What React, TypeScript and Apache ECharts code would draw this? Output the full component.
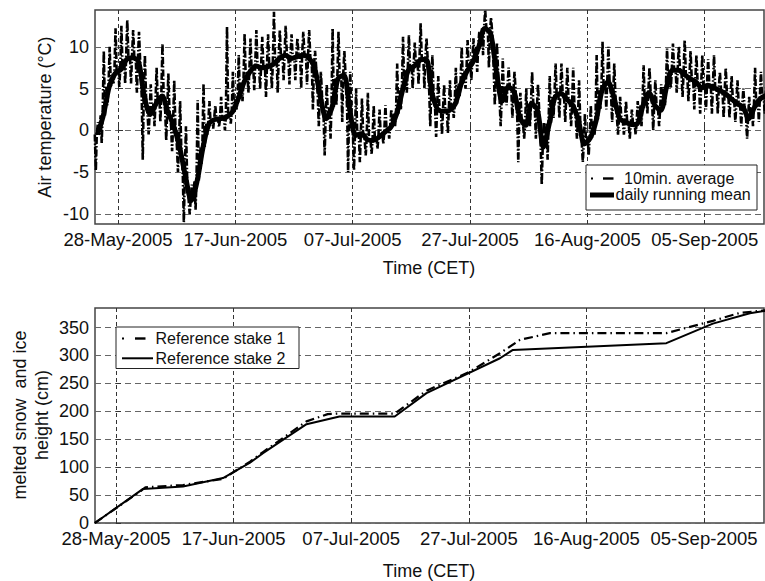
import React, { useEffect, useRef } from "react";
import * as echarts from "echarts";

// x values are days relative to 28-May-2005
const tickDays = [0, 20, 40, 60, 80, 100];
const tickLabels = ["28-May-2005", "17-Jun-2005", "07-Jul-2005", "27-Jul-2005", "16-Aug-2005", "05-Sep-2005"];
const tempTicks = [-10, -5, 0, 5, 10];
const meltTicks = [0, 50, 100, 150, 200, 250, 300, 350];

const firstDay = -4; // first entry of daily arrays

const dailyMeanTemp = [
  -0.5, 1.8, 5.2, 6.8, 7.3, 8.5, 8.7, 8.2, 4.0, 1.9,
  3.2, 4.1, 2.2, 0.5, -2.0, -5.5, -8.4, -6.0, -2.0, 0.8,
  1.3, 1.4, 1.6, 2.2, 3.8, 5.8, 7.0, 7.7, 7.5, 7.6,
  7.9, 8.6, 9.0, 8.6, 8.8, 9.0, 8.7, 7.5, 4.0, 1.4,
  2.8, 6.2, 6.6, 2.5, -0.6, -0.4, -1.1, -1.2, -0.8, -0.2,
  0.4, 2.0, 4.8, 7.2, 7.7, 8.4, 8.5, 4.5, 2.5, 2.3,
  2.4, 3.2, 5.6, 7.1, 8.2, 10.0, 12.2, 11.6, 7.0, 3.5,
  5.2, 4.6, 1.5, 0.6, 3.2, 2.4, -2.0, 0.8, 4.0, 4.4,
  3.7, 3.0, 1.1, -1.6, -0.9, 1.2, 4.8, 5.8, 4.0, 1.4,
  1.0, 0.7, 0.8, 3.0, 4.5, 3.0, 2.4, 5.2, 7.2, 7.2,
  6.7, 6.2, 5.8, 5.1, 5.4, 5.1, 4.8, 4.4, 3.8, 3.2,
  2.8, 1.4, 2.8, 3.8, 4.2,
];

const tenMinDailyMax = [
  1.0, 9.5, 10.0, 12.2, 12.5, 13.2, 12.0, 11.8, 9.0, 5.5,
  7.5, 10.4, 6.8, 6.0, 3.5, 0.5, -6.5, 3.6, 5.6, 3.5,
  3.0, 4.0, 12.4, 7.0, 9.0, 11.6, 11.0, 12.0, 11.2, 11.5,
  14.2, 12.0, 12.5, 11.5, 11.0, 11.8, 12.0, 9.5, 7.0, 5.5,
  12.2, 11.8, 9.5, 7.0, 5.0, 3.8, 4.5, 3.0, 2.5, 3.0,
  2.5, 8.0, 11.2, 11.4, 10.5, 12.8, 11.0, 9.0, 6.5, 5.5,
  6.0, 7.5, 10.0, 10.8, 11.0, 11.8, 14.4, 13.5, 10.5, 8.6,
  7.5, 7.0, 4.5, 5.0, 7.0, 5.5, 1.0, 6.5, 8.0, 8.0,
  7.5, 7.5, 6.0, 2.0, 3.0, 9.0, 10.6, 10.0, 8.0, 4.0,
  3.5, 2.5, 3.5, 7.8, 7.5, 6.0, 5.5, 9.8, 10.4, 10.0,
  10.8, 9.5, 9.0, 9.0, 8.5, 9.0, 7.0, 7.5, 6.5, 6.0,
  5.0, 4.0, 7.5, 7.0, 6.5,
];

const tenMinDailyMin = [
  -4.8, -1.5, 3.0, 5.5, 5.2, 5.6, 5.6, 4.5, -3.5, -0.5,
  0.5, 1.0, -1.2, -2.5, -5.0, -11.0, -10.0, -9.5, -4.0, -0.5,
  0.2, 0.4, 0.0, 0.8, 2.5, 3.5, 4.5, 4.8, 5.0, 4.0,
  5.0, 4.5, 6.0, 5.5, 6.0, 5.0, 5.5, 2.5, 0.5, -3.0,
  -1.0, 3.0, 1.0, -5.0, -4.8, -3.8, -3.0, -2.8, -2.2, -1.6,
  -1.0, 0.5, 2.5, 4.5, 5.0, 5.5, 5.0, 0.5, -0.8, -0.5,
  -0.3, 1.5, 4.0, 5.0, 6.0, 7.0, 9.0, 7.5, 3.0, 0.5,
  3.0, 1.5, -3.8, -1.0, 0.5, -1.0, -6.5, -3.5, 1.5, 1.5,
  1.0, 0.5, -1.0, -3.8, -3.0, -0.5, 2.5, 2.5, 1.0, -0.5,
  -0.5, -1.0, -0.5, 0.5, 2.0, 0.0, 0.5, 3.0, 5.0, 4.5,
  4.0, 3.5, 2.5, 2.0, 2.5, 2.0, 2.0, 1.5, 1.5, 1.0,
  0.5, -1.0, 0.5, 1.0, 2.0,
];

const stake1Days = [-3.6, 4.3, 5.0, 11.4, 18.2, 22.8, 25.0, 32.4, 36.0, 38.0, 47.4, 52.8, 60.0, 65.3, 68.7, 73.8, 93.6, 101.5, 106.0, 110.5];
const stake1Melt = [0, 58, 64, 68, 79, 110, 127, 182, 195, 196, 196, 237, 270, 304, 328, 340, 340, 362, 376, 381];
const stake2Days = [-3.6, 4.6, 11.4, 18.2, 22.8, 25.0, 32.4, 38.0, 47.4, 52.8, 65.3, 67.5, 93.6, 101.5, 107.8, 110.5];
const stake2Melt = [0, 61, 65.5, 80.5, 108, 125, 177, 190.7, 190.7, 232.5, 295, 310, 322, 357, 375.7, 380];

const FONT = "'Liberation Sans', Arial, Helvetica, sans-serif";

function dayLabel(v: number) {
  const i = tickDays.indexOf(Math.round(v));
  return i >= 0 ? tickLabels[i] : "";
}

export default function App() {
  const ref = useRef<HTMLDivElement>(null);
  useEffect(() => {
    if (!ref.current) return;
    const chart = echarts.init(ref.current, undefined, { renderer: "svg" });

    const meanData = dailyMeanTemp.map((v, i) => [firstDay + i + 0.5, v]);
    // 10-min record: each day swings from the running level down to its minimum and up to its maximum
    const tenMinData: number[][] = [];
    tenMinDailyMin.forEach((mn, i) => {
      const d = firstDay + i;
      const m = dailyMeanTemp[i];
      tenMinData.push([d + 0.05, m]);
      tenMinData.push([d + 0.22, mn]);
      tenMinData.push([d + 0.38, m]);
      tenMinData.push([d + 0.58, tenMinDailyMax[i]]);
      tenMinData.push([d + 0.78, m]);
    });
    const s1 = stake1Days.map((d, i) => [d, stake1Melt[i]]);
    const s2 = stake2Days.map((d, i) => [d, stake2Melt[i]]);

    const xAxisBase = (gridIndex: number, min: number, max: number) => ({
      type: "value",
      gridIndex,
      min,
      max,
      axisLine: { show: false },
      axisTick: { show: true, inside: true, length: 5, customValues: tickDays, lineStyle: { color: "#333" } },
      axisLabel: {
        customValues: tickDays,
        formatter: (v: number) => dayLabel(v),
        fontSize: 18.5,
        lineHeight: 16,
        fontFamily: FONT,
        color: "#111",
        margin: 7,
      },
      splitLine: { show: true, lineStyle: { color: "#333", type: [4, 3], width: 1 } },
    });

    const yAxisBase = (gridIndex: number, min: number, max: number, ticks: number[]) => ({
      type: "value",
      gridIndex,
      min,
      max,
      axisLine: { show: false },
      axisTick: { show: true, inside: true, length: 5, customValues: ticks, lineStyle: { color: "#333" } },
      axisLabel: { customValues: ticks, fontSize: 18, lineHeight: 14, fontFamily: FONT, color: "#111", margin: 6 },
      splitLine: { show: true, lineStyle: { color: "#666", type: [6, 4], width: 1 } },
    });

    const option: any = {
      animation: false,
      backgroundColor: "#fff",
      grid: [
        { left: 95, top: 10, width: 669, height: 214, show: true, borderColor: "#444", borderWidth: 1.5, backgroundColor: "transparent" },
        { left: 95, top: 308, width: 669, height: 215, show: true, borderColor: "#444", borderWidth: 1.5, backgroundColor: "transparent" },
      ],
      xAxis: [xAxisBase(0, -3.92, 110.1), xAxisBase(1, -3.57, 110.2)],
      yAxis: [yAxisBase(0, -11.2, 14.4, tempTicks), yAxisBase(1, 0, 385, meltTicks)],
      series: [
        {
          name: "10min. average",
          type: "line",
          xAxisIndex: 0,
          yAxisIndex: 0,
          data: tenMinData,
          showSymbol: false,
          lineStyle: { color: "#000", width: 2.6, type: [7, 2, 1.5, 2] },
          z: 2,
        },
        {
          name: "daily running mean",
          type: "line",
          xAxisIndex: 0,
          yAxisIndex: 0,
          data: meanData,
          showSymbol: false,
          smooth: 0.3,
          lineStyle: { color: "#000", width: 5 },
          z: 3,
        },
        {
          name: "Reference stake 1",
          type: "line",
          xAxisIndex: 1,
          yAxisIndex: 1,
          data: s1,
          showSymbol: false,
          lineStyle: { color: "#000", width: 2.2, type: [9, 4, 1.5, 4] },
          z: 2,
        },
        {
          name: "Reference stake 2",
          type: "line",
          xAxisIndex: 1,
          yAxisIndex: 1,
          data: s2,
          showSymbol: false,
          lineStyle: { color: "#000", width: 2 },
          z: 3,
        },
      ],
      graphic: [
        // axis titles
        { type: "text", x: 45, y: 117, rotation: Math.PI / 2, z: 100,
          style: { text: "Air temperature (°C)", fontSize: 18, fontFamily: FONT, fill: "#111", align: "center", verticalAlign: "middle" } },
        { type: "text", x: 429, y: 268, z: 100,
          style: { text: "Time (CET)", fontSize: 18, fontFamily: FONT, fill: "#111", align: "center", verticalAlign: "middle" } },
        { type: "text", x: 31, y: 415, rotation: Math.PI / 2, z: 100,
          style: { text: "melted snow  and ice\nheight (cm)", fontSize: 18, lineHeight: 22, fontFamily: FONT, fill: "#111", align: "center", verticalAlign: "middle" } },
        { type: "text", x: 429, y: 571, z: 100,
          style: { text: "Time (CET)", fontSize: 18, fontFamily: FONT, fill: "#111", align: "center", verticalAlign: "middle" } },
        // top legend
        { type: "rect", z: 100, shape: { x: 586, y: 165, width: 171, height: 45 }, style: { fill: "#fff", stroke: "#222", lineWidth: 1 } },
        { type: "line", z: 101, shape: { x1: 591, y1: 178.5, x2: 593, y2: 178.5 }, style: { stroke: "#000", lineWidth: 2 } },
        { type: "line", z: 101, shape: { x1: 603, y1: 178.5, x2: 613.5, y2: 178.5 }, style: { stroke: "#000", lineWidth: 2.4 } },
        { type: "text", x: 624, y: 178, z: 101,
          style: { text: "10min. average", fontSize: 16, fontFamily: FONT, fill: "#111", align: "left", verticalAlign: "middle" } },
        { type: "line", z: 101, shape: { x1: 590, y1: 195, x2: 614, y2: 195 }, style: { stroke: "#000", lineWidth: 5 } },
        { type: "text", x: 615.5, y: 194, z: 101,
          style: { text: "daily running mean", fontSize: 16, fontFamily: FONT, fill: "#111", align: "left", verticalAlign: "middle" } },
        // bottom legend
        { type: "rect", z: 100, shape: { x: 116, y: 327, width: 183, height: 41.5 }, style: { fill: "#fff", stroke: "#222", lineWidth: 1 } },
        { type: "line", z: 101, shape: { x1: 122, y1: 338.5, x2: 124, y2: 338.5 }, style: { stroke: "#000", lineWidth: 2 } },
        { type: "line", z: 101, shape: { x1: 135, y1: 338.5, x2: 145.5, y2: 338.5 }, style: { stroke: "#000", lineWidth: 2.4 } },
        { type: "text", x: 155.5, y: 338, z: 101,
          style: { text: "Reference stake 1", fontSize: 16, fontFamily: FONT, fill: "#111", align: "left", verticalAlign: "middle" } },
        { type: "line", z: 101, shape: { x1: 122, y1: 358.3, x2: 153, y2: 358.3 }, style: { stroke: "#000", lineWidth: 2 } },
        { type: "text", x: 155.5, y: 358, z: 101,
          style: { text: "Reference stake 2", fontSize: 16, fontFamily: FONT, fill: "#111", align: "left", verticalAlign: "middle" } },
      ],
    };
    chart.setOption(option);
    return () => chart.dispose();
  }, []);

  return <div ref={ref} style={{ position: "absolute", left: 0, top: 0, width: 765, height: 581 }} />;
}
